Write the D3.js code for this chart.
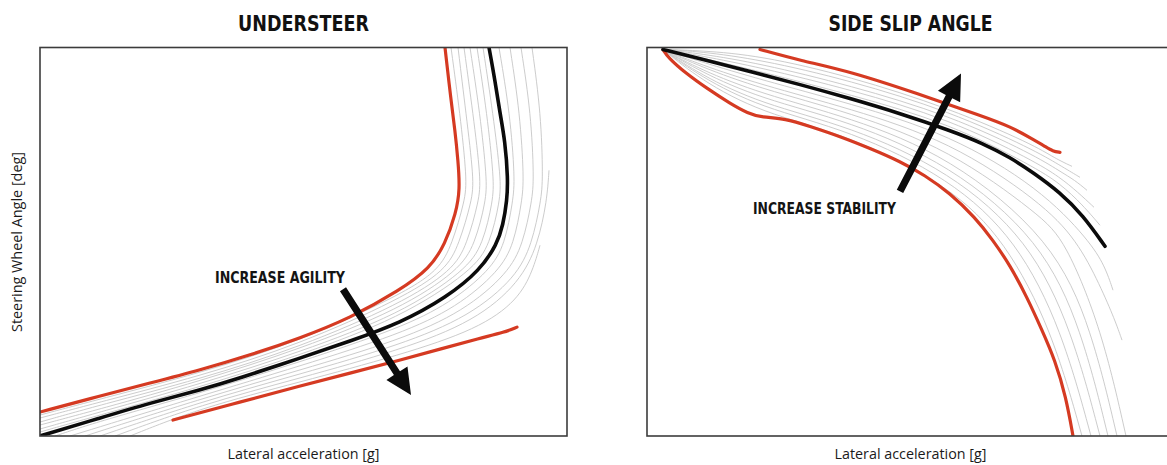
<!DOCTYPE html>
<html><head><meta charset="utf-8">
<script src="https://cdn.jsdelivr.net/npm/d3@7/dist/d3.min.js"></script>
<style>
html,body{margin:0;padding:0;background:#fff;}
svg{display:block;}
</style></head>
<body><svg id="chart" width="1167" height="465"></svg>
<script>
// ---------------- DATA (schematic units: x = lateral acceleration, y = response) ----------------
const panelTitles = ["UNDERSTEER", "SIDE SLIP ANGLE"];
const xAxisLabels = ["Lateral acceleration [g]", "Lateral acceleration [g]"];
const yAxisLabel = "Steering Wheel Angle [deg]";
const arrowLabels = ["INCREASE AGILITY", "INCREASE STABILITY"];

// Understeer panel
const usRedUpper = [[0,24],[60,40],[110,53],[160,66],[210,81],[260,98],[310,118],[360,146],[390,168],[405,192],[416,223],[420,247],[418,276],[415,306],[411,336],[405,389]];
const usBlack = [[0,0],[60,18],[110,33],[160,46],[200,58],[260,78],[310,95],[360,113],[407,139],[440,166],[457,192],[463,211],[467,236],[468,257],[465,296],[460,323],[455,356],[449,389]];
const usRedLower = [[133,16],[200,34],[260,50],[310,63],[360,76],[400,87],[440,98],[465,104],[477,109]];
const usGray1 = [[0,21],[60,37],[160,63],[260,95],[360,141],[399,166],[412,192],[425,236],[427,257],[420,323],[411,389]];
const usGray2 = [[0,18],[60,34],[160,60],[260,92],[360,137],[406,166],[419,192],[432,236],[434,257],[426,323],[418,389]];
const usGray3 = [[0,14],[60,31],[160,57],[260,89],[360,132],[413,166],[427,192],[439,236],[441,257],[433,323],[424,389]];
const usGray4 = [[0,11],[60,27],[160,55],[260,87],[360,127],[419,166],[435,192],[446,236],[447,257],[440,323],[430,389]];
const usGray5 = [[0,7],[60,24],[160,52],[260,84],[360,122],[426,166],[443,192],[453,236],[454,257],[447,323],[437,389]];
const usGray6 = [[0,4],[60,21],[160,49],[260,81],[360,118],[433,166],[450,192],[460,236],[461,257],[453,323],[443,389]];
const usGray7 = [[15,0],[60,15],[160,43],[260,74],[360,108],[410,133],[450,166],[465,192],[473,236],[475,257],[470,323],[459,389]];
const usGray8 = [[30,0],[160,40],[260,70],[360,102],[417,129],[459,165],[474,192],[482,236],[484,257],[480,323],[470,389]];
const usGray9 = [[45,0],[160,37],[260,66],[360,96],[424,125],[468,163],[483,192],[492,236],[494,257],[491,323],[481,389]];
const usGray10 = [[60,0],[160,34],[260,62],[360,91],[430,120],[476,159],[492,192],[501,236],[503,257],[501,323],[492,389]];
const usGray11 = [[75,0],[160,31],[260,58],[360,86],[435,115],[480,154],[498,192],[507,236],[509,266]];
const usGray12 = [[90,0],[160,28],[260,54],[360,81],[438,107],[478,136],[493,166],[500,191]];
const usArrow = [[303,147],[371,41]];          // tail, tip
const usArrowText = [175,153];

// Side slip angle panel
const ssRedUpper = [[113,387],[153,376],[203,365],[270,343],[336,320],[363,310],[386,297],[398,290],[406,285],[413,284]];
const ssBlack = [[16,387],[53,378],[103,365],[153,352],[203,338],[253,323],[303,306],[336,293],[363,279],[386,264],[413,244],[436,221],[458,190]];
const ssRedLower = [[16,387],[21,379],[39,363],[60,348],[83,333],[101,323],[115,319],[138,318],[163,310],[193,300],[223,288],[253,275],[278,261],[303,243],[328,219],[346,196],[363,171],[380,139],[395,106],[408,76],[419,39],[426,0]];
const ssGray1 = [[16,387],[53,379],[113,365],[203,342],[303,313],[386,270],[413,253],[436,231],[453,211]];
const ssGray2 = [[16,387],[53,381],[113,369],[203,347],[303,317],[386,276],[413,259],[431,244],[447,229]];
const ssGray3 = [[16,387],[53,383],[113,373],[203,351],[303,321],[386,282],[413,265],[428,256],[440,246]];
const ssGray4 = [[16,387],[53,385],[113,377],[203,356],[303,325],[386,287],[413,271],[433,259]];
const ssGray5 = [[16,387],[53,386],[113,381],[203,360],[303,328],[386,292],[408,278],[425,270]];
const ssGray6 = [[16,387],[53,375],[113,357],[203,333],[303,302],[393,248],[442,196],[458,170],[466,146]];
const ssGray7 = [[16,387],[53,372],[113,352],[203,328],[303,295],[393,235],[430,196],[453,151],[468,116],[475,96]];
const ssGray8 = [[16,387],[53,370],[113,348],[203,324],[303,287],[393,221],[418,196],[455,106],[479,0]];
const ssGray9 = [[16,387],[53,367],[113,343],[203,319],[303,280],[406,196],[445,106],[470,0]];
const ssGray10 = [[16,387],[53,365],[113,338],[203,315],[303,272],[394,196],[435,106],[461,0]];
const ssGray11 = [[16,387],[53,362],[113,333],[203,310],[303,265],[382,196],[425,106],[453,0]];
const ssGray12 = [[16,387],[53,360],[113,329],[203,306],[303,258],[370,196],[415,106],[444,0]];
const ssGray13 = [[16,387],[53,357],[113,324],[203,301],[303,250],[358,196],[405,106],[435,0]];
const ssArrow = [[253,245],[314,363]];
const ssArrowText = [106,222];

const xDomain = [0, 527];
const yDomain = [0, 389];

// ---------------- LAYOUT / STYLE ----------------
const svg = d3.select("#chart");
const RED = "#d53a22", BLACK = "#0b0b0b", GRAY = "#c6c6c6", FRAME = "#3c3c3c";
const TITLE_FONT = "'DejaVu Sans Condensed','DejaVu Sans',sans-serif";
const LABEL_FONT = "'Open Sans','Noto Sans',sans-serif";
const plotTop = 47.5, plotBottom = 436, plotW = 527;

const panels = [
  {left: 40, title: panelTitles[0], xlab: xAxisLabels[0], titleLen: 131,
   grays: [usGray1,usGray2,usGray3,usGray4,usGray5,usGray6,usGray7,usGray8,usGray9,usGray10,usGray11,usGray12],
   reds: [usRedUpper, usRedLower], black: usBlack, arrow: usArrow, text: arrowLabels[0], textPos: usArrowText, textLen: 130, id: "cl0"},
  {left: 647, title: panelTitles[1], xlab: xAxisLabels[1], titleLen: 164,
   grays: [ssGray1,ssGray2,ssGray3,ssGray4,ssGray5,ssGray6,ssGray7,ssGray8,ssGray9,ssGray10,ssGray11,ssGray12,ssGray13],
   reds: [ssRedUpper, ssRedLower], black: ssBlack, arrow: ssArrow, text: arrowLabels[1], textPos: ssArrowText, textLen: 143, id: "cl1"}
];

const defs = svg.append("defs");

panels.forEach(p => {
  const x = d3.scaleLinear().domain(xDomain).range([p.left, p.left + plotW]);
  const y = d3.scaleLinear().domain(yDomain).range([plotBottom, plotTop]);
  const line = d3.line().x(d => x(d[0])).y(d => y(d[1])).curve(d3.curveBasis);

  defs.append("clipPath").attr("id", p.id).append("rect")
    .attr("x", p.left).attr("y", plotTop).attr("width", plotW).attr("height", plotBottom - plotTop);

  const g = svg.append("g");
  const plot = g.append("g").attr("clip-path", `url(#${p.id})`);

  plot.selectAll("path.gray").data(p.grays).join("path").attr("class","gray")
    .attr("d", line).attr("fill","none").attr("stroke", GRAY).attr("stroke-width", 0.9);
  plot.selectAll("path.red").data(p.reds).join("path").attr("class","red")
    .attr("d", line).attr("fill","none").attr("stroke", RED).attr("stroke-width", 3.2).attr("stroke-linecap","round");
  plot.append("path").datum(p.black).attr("d", line).attr("fill","none")
    .attr("stroke", BLACK).attr("stroke-width", 3.6).attr("stroke-linecap","round");

  // arrow
  const T = [x(p.arrow[0][0]), y(p.arrow[0][1])], P = [x(p.arrow[1][0]), y(p.arrow[1][1])];
  const len = Math.hypot(P[0]-T[0], P[1]-T[1]);
  const u = [(P[0]-T[0])/len, (P[1]-T[1])/len], n = [-u[1], u[0]];
  const hl = 26, hw = 12.5, sw = 3.6;
  const B = [P[0]-u[0]*hl, P[1]-u[1]*hl];
  const pt = (o, k) => [o[0] + n[0]*k, o[1] + n[1]*k];
  const poly = [pt(T, sw), pt(B, sw), pt(B, hw), P, pt(B, -hw), pt(B, -sw), pt(T, -sw)];
  g.append("path").attr("d", "M" + poly.map(q => q.join(",")).join("L") + "Z").attr("fill", BLACK);

  g.append("text").attr("x", x(p.textPos[0])).attr("y", y(p.textPos[1]))
    .attr("font-family", TITLE_FONT).attr("font-weight", "bold").attr("font-size", 16)
    .attr("font-stretch","condensed")
    .attr("textLength", p.textLen).attr("lengthAdjust", "spacingAndGlyphs")
    .attr("fill", "#141414").text(p.text);

  // frame
  g.append("rect").attr("x", p.left).attr("y", plotTop).attr("width", plotW).attr("height", plotBottom - plotTop)
    .attr("fill","none").attr("stroke", FRAME).attr("stroke-width", 1.6);

  // title
  g.append("text").attr("x", p.left + plotW/2).attr("y", 31).attr("text-anchor","middle")
    .attr("font-family", TITLE_FONT).attr("font-weight","bold").attr("font-size", 22)
    .attr("font-stretch","condensed")
    .attr("textLength", p.titleLen).attr("lengthAdjust","spacingAndGlyphs")
    .attr("fill","#111").text(p.title);

  // x label
  g.append("text").attr("x", p.left + plotW/2).attr("y", 459).attr("text-anchor","middle")
    .attr("font-family", LABEL_FONT).attr("font-size", 14)
    .attr("textLength", 152).attr("lengthAdjust","spacingAndGlyphs")
    .attr("fill","#1a1a1a").text(p.xlab);
});

svg.append("text").attr("transform", "translate(22,242) rotate(-90)").attr("text-anchor","middle")
  .attr("font-family", LABEL_FONT).attr("font-size", 14)
  .attr("textLength", 180).attr("lengthAdjust","spacingAndGlyphs")
  .attr("fill","#1a1a1a").text(yAxisLabel);
</script>
</body></html>
